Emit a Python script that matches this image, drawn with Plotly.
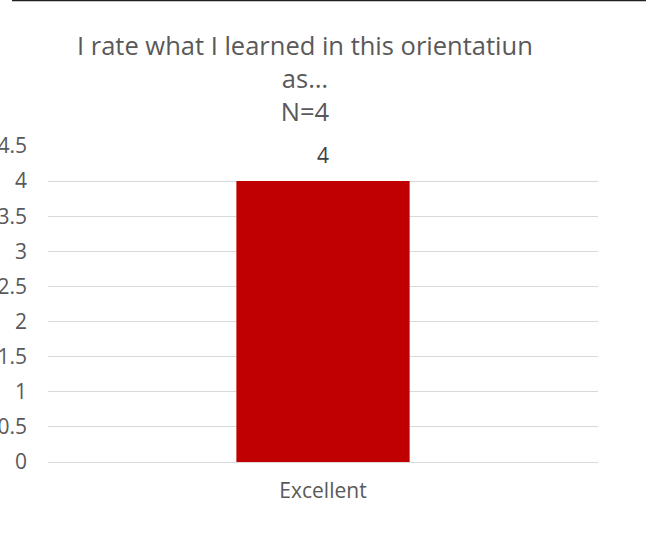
import plotly.graph_objects as go

categories = ["Excellent"]
values = [4]
title_lines = ["I rate what I learned in this orientatiun", "as…", "N=4"]
y_ticks = [0, 0.5, 1, 1.5, 2, 2.5, 3, 3.5, 4, 4.5]
y_tick_labels = ["0", "0.5", "1", "1.5", "2", "2.5", "3", "3.5", "4", "4.5"]

FONT = "Open Sans"
GRAY = "#595959"

fig = go.Figure()
fig.add_trace(go.Bar(
    x=categories, y=values,
    marker=dict(color="#C00000", line=dict(width=0)),
    width=0.315,
    hoverinfo="skip",
))

for c, v in zip(categories, values):
    fig.add_annotation(x=c, y=v, text=str(v), showarrow=False,
                       yanchor="bottom", yshift=10,
                       font=dict(family=FONT, size=21, color="#404040"))

fig.update_layout(
    width=646, height=541,
    margin=dict(l=48, r=48, t=146, b=79, autoexpand=False),
    paper_bgcolor="white", plot_bgcolor="white",
    showlegend=False,
    title=dict(text="<br>".join(title_lines), x=0.472, xanchor="center",
               y=0.899, yanchor="top",
               font=dict(family=FONT, size=25.5, color=GRAY)),
    xaxis=dict(showgrid=False, showline=False, ticks="", zeroline=False,
               automargin=False,
               tickfont=dict(family=FONT, size=21, color=GRAY),
               ticklabelstandoff=14, fixedrange=True),
    yaxis=dict(range=[0, 4.5], tickvals=y_ticks, ticktext=y_tick_labels,
               automargin=False,
               showgrid=True, gridcolor="#D9D9D9", gridwidth=1,
               zeroline=True, zerolinecolor="#D9D9D9", zerolinewidth=1,
               showline=False, ticks="",
               tickfont=dict(family=FONT, size=21, color=GRAY),
               ticklabelstandoff=20, fixedrange=True),
    shapes=[dict(type="line", xref="paper", yref="paper",
                 x0=-0.0655, x1=1.09, y0=1.4604, y1=1.4604,
                 line=dict(color="#202020", width=1.5))],
)

fig.write_html("out.html", config={"displayModeBar": False},
               post_script="document.body.style.margin='0';")
